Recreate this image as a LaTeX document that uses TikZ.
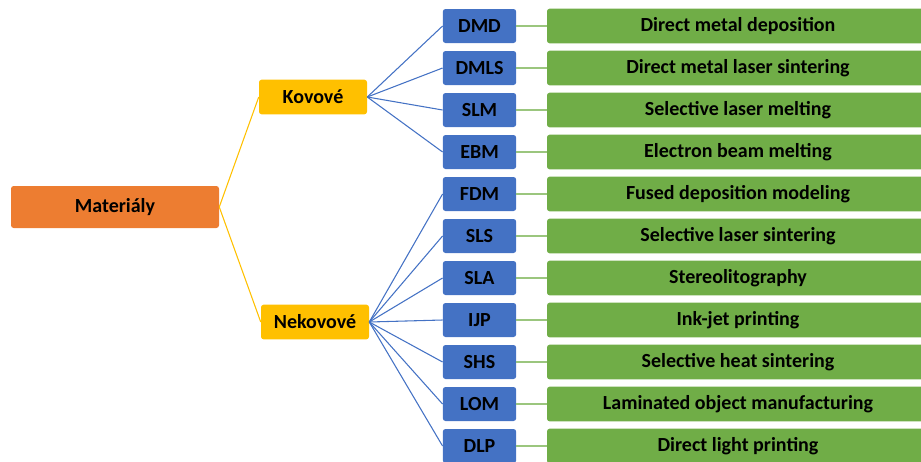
\documentclass[tikz,border=0pt]{standalone}
\usepackage{fontspec}
\setmainfont{Carlito}
\definecolor{matorange}{HTML}{ED7D31}
\definecolor{kovyellow}{HTML}{FFC000}
\definecolor{techblue}{HTML}{4472C4}
\definecolor{fullgreen}{HTML}{70AD47}
\begin{document}
\begin{tikzpicture}[x=0.75pt,y=-0.75pt,
  box/.style={rounded corners=2pt, inner sep=0pt, text=black,
    font=\bfseries\fontsize{15}{17}\selectfont},
  root/.style={box, fill=matorange, minimum width=156pt, minimum height=31.5pt},
  group/.style={box, fill=kovyellow, minimum width=81pt, minimum height=26pt},
  tech/.style={box, fill=techblue, minimum width=55pt, minimum height=25.5pt},
  full/.style={box, fill=fullgreen, minimum width=286.5pt, minimum height=26pt},
  yline/.style={kovyellow, line width=0.8pt},
  bline/.style={techblue, line width=0.8pt},
  gline/.style={fullgreen!70, line width=0.8pt}]
\clip (0,0) rectangle (921,461);
% Root and groups
\node[root] (mat) at (115,207) {Materiály};
\node[group] (kov) at (313,97) {Kovové};
\node[group] (nekov) at (315,322) {Nekovové};
\draw[yline] (mat.east) -- (kov.west);
\draw[yline] (mat.east) -- (nekov.west);
% Technologies
\foreach \ab/\full [count=\i] in {DMD/Direct metal deposition,
    DMLS/Direct metal laser sintering, SLM/Selective laser melting,
    EBM/Electron beam melting, FDM/Fused deposition modeling,
    SLS/Selective laser sintering, SLA/Stereolitography,
    IJP/Ink-jet printing, SHS/Selective heat sintering,
    LOM/Laminated object manufacturing, DLP/Direct light printing} {
  \pgfmathsetmacro{\ypos}{26+(\i-1)*42}
  \node[tech] (\ab) at (479.5,\ypos) {\ab};
  \node[full] (\ab-f) at (738,\ypos) {\full};
  \draw[gline] (\ab.east) -- (\ab-f.west);
  \ifnum\i<5
    \draw[bline] (kov.east) -- (\ab.west);
  \else
    \draw[bline] (nekov.east) -- (\ab.west);
  \fi
}
\end{tikzpicture}
\end{document}
